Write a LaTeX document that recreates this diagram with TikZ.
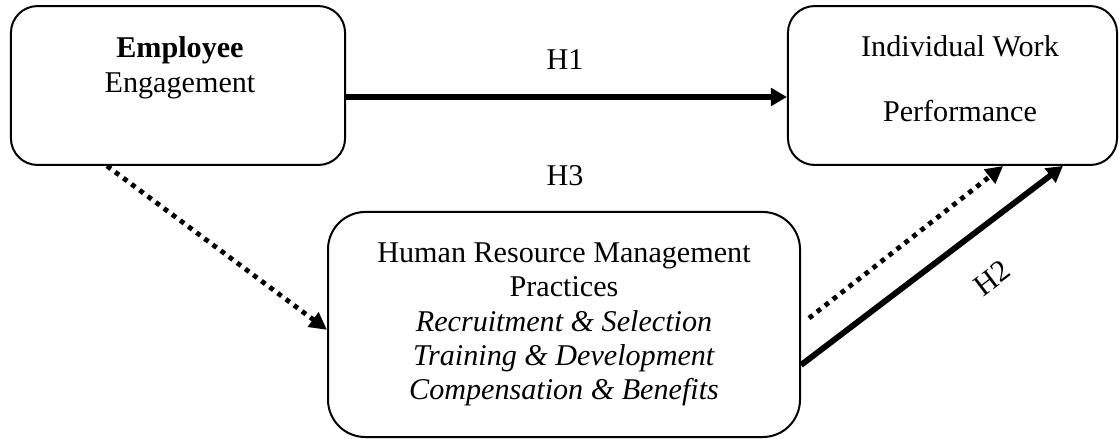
\documentclass[tikz,border=0pt]{standalone}
\usepackage{fontspec}
\setmainfont{Liberation Serif}
\usetikzlibrary{arrows.meta}

\tikzset{
    box/.style={draw, line width=0.75pt, rounded corners=10pt},
    solidarrow/.style={line width=2.2pt, -{Triangle[length=6pt,width=6.5pt]}},
    dotarrow/.style={line width=1.8pt, dash pattern=on 1.8pt off 2pt, -{Triangle[length=6.5pt,width=6.5pt]}}
}

\begin{document}
\begin{tikzpicture}[x=0.375pt, y=-0.375pt, font=\fontsize{11.3}{13}\selectfont]
    \useasboundingbox (0,0) rectangle (1119,438);

    % Draw boxes
    \node[box, minimum width=125.3pt, minimum height=59.6pt] (ee) at (178,85.5) {};
    \node[align=center] (eetext) at (180,68) {\textbf{Employee}\\Engagement};

    \node[box, minimum width=123.4pt, minimum height=59.6pt] (iwp) at (952.5,85.5) {};
    \node[align=center, font=\fontsize{11.3}{24.4}\selectfont] (iwptext) at (960,78.5) {Individual Work\\Performance};

    \node[box, rounded corners=14pt, minimum width=177pt, minimum height=84.4pt, align=center, font=\fontsize{11.3}{12.9}\selectfont] (hrm) at (564,324.5)
        {Human Resource Management\\Practices\\\textit{Recruitment \& Selection}\\\textit{Training \& Development}\\\textit{Compensation \& Benefits}};

    % Draw hypotheses
    \draw[solidarrow] ([yshift=-4.3pt]ee.east) -- ([yshift=-4.3pt]iwp.west);
    \draw[dotarrow] ([xshift=-26.6pt]ee.south) -- ([yshift=-2pt]hrm.west);
    \draw[dotarrow] ([shift={(3pt,2.4pt)}]hrm.east) -- ([xshift=19pt]iwp.south);
    \draw[solidarrow] ([yshift=-15.2pt]hrm.east) -- ([xshift=41.4pt]iwp.south);

    % Labels
    \foreach \n/\x/\y in {h1/565/60, h3/565/176} {
      \node (\n) at (\x,\y) {\MakeUppercase{\n}};
    }
    \node[rotate=37] (h2) at (992,278) {H2};
\end{tikzpicture}
\end{document}
